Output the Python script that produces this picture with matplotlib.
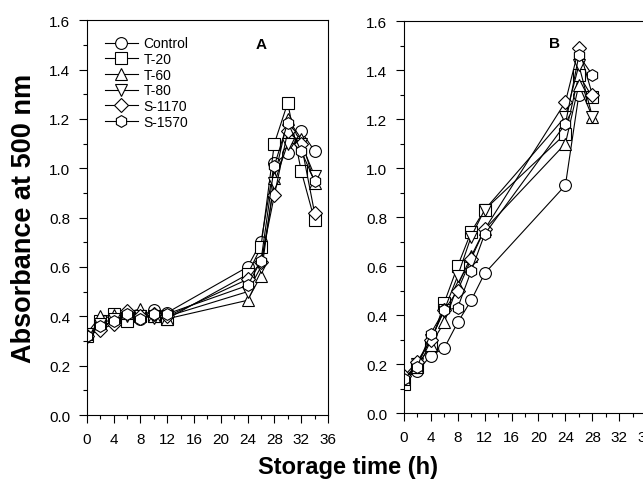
import matplotlib
matplotlib.use("Agg")
import matplotlib.pyplot as plt
from matplotlib.ticker import MultipleLocator

plt.rcParams['font.family'] = ['Liberation Sans', 'DejaVu Sans']

labels = ["Control", "T-20", "T-60", "T-80", "S-1170", "S-1570"]
markers = ["o", "s", "^", "v", "D", "h"]

# panel A
time_a = [0, 2, 4, 6, 8, 10, 12, 24, 26, 28, 30, 32, 34]
a_control = [0.32, 0.355, 0.38, 0.41, 0.39, 0.425, 0.415, 0.60, 0.70, 1.02, 1.06, 1.15, 1.07]
a_t20 = [0.32, 0.38, 0.41, 0.38, 0.40, 0.40, 0.39, 0.57, 0.68, 1.10, 1.265, 0.99, 0.79]
a_t60 = [0.33, 0.40, 0.405, 0.415, 0.43, 0.40, 0.39, 0.465, 0.565, 0.96, 1.20, 1.12, 0.94]
a_t80 = [0.33, 0.37, 0.39, 0.40, 0.40, 0.395, 0.40, 0.50, 0.60, 0.94, 1.10, 1.10, 0.97]
a_s1170 = [0.32, 0.345, 0.37, 0.42, 0.40, 0.41, 0.40, 0.55, 0.62, 0.89, 1.15, 1.10, 0.82]
a_s1570 = [0.32, 0.36, 0.38, 0.41, 0.39, 0.41, 0.41, 0.525, 0.625, 1.01, 1.185, 1.07, 0.95]

# panel B
time_b = [0, 2, 4, 6, 8, 10, 12, 24, 26, 28]
b_control = [0.14, 0.17, 0.235, 0.265, 0.37, 0.46, 0.57, 0.93, 1.30, 1.29]
b_t20 = [0.12, 0.19, 0.28, 0.45, 0.60, 0.74, 0.83, 1.14, 1.38, 1.29]
b_t60 = [0.14, 0.19, 0.28, 0.37, 0.52, 0.64, 0.75, 1.10, 1.34, 1.21]
b_t80 = [0.14, 0.20, 0.30, 0.42, 0.56, 0.72, 0.83, 1.21, 1.42, 1.21]
b_s1170 = [0.15, 0.21, 0.30, 0.42, 0.50, 0.63, 0.75, 1.27, 1.49, 1.30]
b_s1570 = [0.14, 0.19, 0.325, 0.42, 0.43, 0.58, 0.73, 1.18, 1.46, 1.38]

series_a = [a_control, a_t20, a_t60, a_t80, a_s1170, a_s1570]
series_b = [b_control, b_t20, b_t60, b_t80, b_s1170, b_s1570]

fig = plt.figure(figsize=(6.43, 4.81), dpi=100)
ax_a = fig.add_axes([0.135, 0.135, 0.375, 0.821])
ax_b = fig.add_axes([0.628, 0.139, 0.377, 0.815])


def style(ax):
    ax.set_ylim(0, 1.6)
    ax.set_xlim(0, 36)
    ax.xaxis.set_major_locator(MultipleLocator(4))
    ax.xaxis.set_minor_locator(MultipleLocator(2))
    ax.yaxis.set_major_locator(MultipleLocator(0.2))
    ax.yaxis.set_minor_locator(MultipleLocator(0.1))
    ax.yaxis.set_major_formatter(plt.FormatStrFormatter("%.1f"))
    ax.tick_params(which="major", direction="out", length=6, width=0.8, labelsize=11, pad=6)
    ax.tick_params(which="minor", direction="out", length=3, width=0.8)
    for sp in ax.spines.values():
        sp.set_linewidth(0.8)


for ax, t, data in [(ax_a, time_a, series_a), (ax_b, time_b, series_b)]:
    for vals, m, lab in zip(data, markers, labels):
        ax.plot(t, vals, color="black", lw=0.8, marker=m, markersize=8.5 if m != "D" else 7.5,
                markerfacecolor="white", markeredgecolor="black", markeredgewidth=0.8, label=lab)
    style(ax)

ax_a.legend(loc="upper left", bbox_to_anchor=(0.04, 0.98), frameon=False, fontsize=10,
            handlelength=2.4, handletextpad=0.4, labelspacing=0.12, borderaxespad=0.2)
ax_a.text(0.70, 0.93, "A", transform=ax_a.transAxes, fontsize=11, fontweight="bold")
ax_b.text(0.60, 0.935, "B", transform=ax_b.transAxes, fontsize=11, fontweight="bold")

fig.text(0.037, 0.545, "Absorbance at 500 nm", rotation=90, va="center", ha="center",
         fontsize=19.5, fontweight="bold")
fig.text(0.541, 0.029, "Storage time (h)", ha="center", va="center", fontsize=17, fontweight="bold")

fig.savefig("out.png", dpi=100)
